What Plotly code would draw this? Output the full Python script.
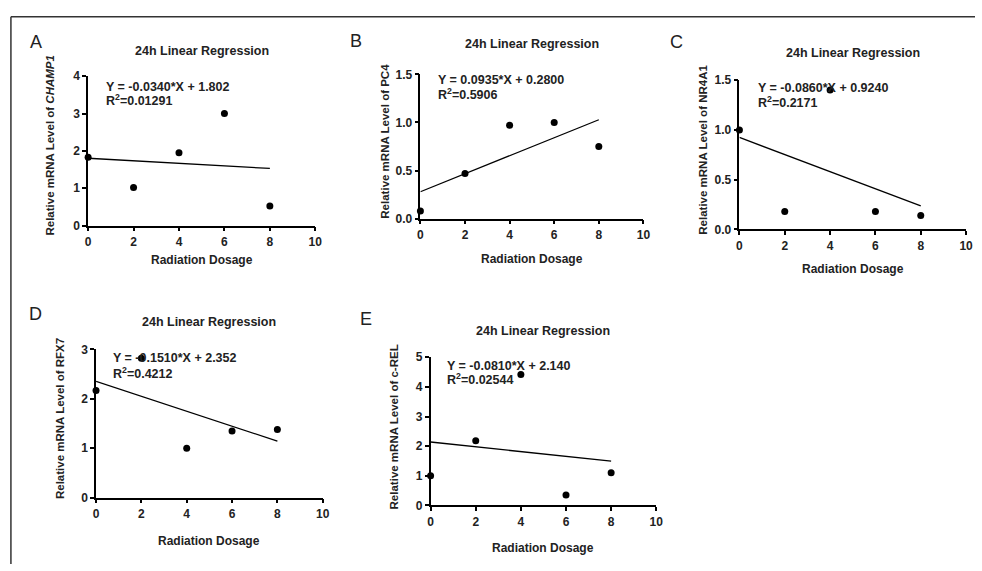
import plotly.graph_objects as go

W, H = 982, 571

# ---- data ----
dose = [0, 2, 4, 6, 8]
panels = ["A", "B", "C", "D", "E"]
genes = ["<i>CHAMP1</i>", "PC4", "NR4A1", "RFX7", "c-REL"]
champ1 = [1.83, 1.02, 1.95, 3.00, 0.52]
pc4 = [0.08, 0.47, 0.97, 1.00, 0.75]
nr4a1 = [1.00, 0.18, 1.40, 0.18, 0.14]
rfx7 = [2.17, 2.82, 1.00, 1.35, 1.38]
crel = [1.00, 2.18, 4.42, 0.35, 1.10]
series = [champ1, pc4, nr4a1, rfx7, crel]
slopes = [-0.0340, 0.0935, -0.0860, -0.1510, -0.0810]
intercepts = [1.802, 0.2800, 0.9240, 2.352, 2.140]
eq_text = ["Y = -0.0340*X + 1.802", "Y = 0.0935*X + 0.2800", "Y = -0.0860*X + 0.9240",
           "Y = -0.1510*X + 2.352", "Y = -0.0810*X + 2.140"]
r2_text = ["0.01291", "0.5906", "0.2171", "0.4212", "0.02544"]
y_max = [4, 1.5, 1.5, 3, 5]
y_ticks = [[0, 1, 2, 3, 4], [0.0, 0.5, 1.0, 1.5], [0.0, 0.5, 1.0, 1.5], [0, 1, 2, 3], [0, 1, 2, 3, 4, 5]]
y_fmt = ["d", ".1f", ".1f", "d", "d"]
x_ticks = [0, 2, 4, 6, 8, 10]

# ---- layout (pixel positions) ----
dom_px = [  # x0, x1, ytop, ybottom
    (86, 315.5, 71, 224),
    (421.7, 647, 69, 217),
    (744, 973, 75, 228),
    (94, 323, 351, 503),
    (432, 660, 359, 511),
]
title_y = [45, 38, 47, 323, 332]
label_xy = [(33, 36), (357, 35), (680, 36), (33, 315), (367, 320)]
eq_xy = [(102, 82, 95), (437, 75, 89), (761, 83, 97), (109, 360, 375), (447, 368, 381)]
ytitle_x = [47, 386, 707, 57, 395]
xtitle_y = [259, 258, 269, 547, 555]

FONT = "Liberation Sans, Arial, sans-serif"

def px(x):
    return x / W

def py(y):
    return 1 - y / H

fig = go.Figure()
annotations = []

for i in range(5):
    xa = "x" if i == 0 else f"x{i+1}"
    ya = "y" if i == 0 else f"y{i+1}"
    xl = "xaxis" if i == 0 else f"xaxis{i+1}"
    yl = "yaxis" if i == 0 else f"yaxis{i+1}"
    x0, x1, yt, yb = dom_px[i]

    fig.add_trace(go.Scatter(
        x=dose, y=series[i], mode="markers", xaxis=xa, yaxis=ya,
        marker=dict(color="black", size=7), cliponaxis=False, showlegend=False))
    line_x = [dose[0], dose[-1]]
    line_y = [intercepts[i] + slopes[i] * v for v in line_x]
    fig.add_trace(go.Scatter(
        x=line_x, y=line_y, mode="lines", xaxis=xa, yaxis=ya,
        line=dict(color="black", width=1.3), cliponaxis=False, showlegend=False))

    fig.update_layout(**{
        xl: dict(domain=[px(x0), px(x1)], anchor=ya, range=[0, 10], tickvals=x_ticks,
                 showline=True, linecolor="black", linewidth=1.5, ticks="outside",
                 ticklen=4, tickwidth=1.5, tickcolor="black", showgrid=False, zeroline=False,
                 tickfont=dict(family=FONT, size=12, color="#222", weight="bold")),
        yl: dict(domain=[py(yb), py(yt)], anchor=xa, range=[0, y_max[i]], tickvals=y_ticks[i],
                 tickformat=y_fmt[i],
                 showline=True, linecolor="black", linewidth=1.5, ticks="outside",
                 ticklen=4, tickwidth=1.5, tickcolor="black", showgrid=False, zeroline=False,
                 tickfont=dict(family=FONT, size=12, color="#222", weight="bold")),
    })

    cx = px((x0 + x1) / 2)
    annotations.append(dict(text="<b>24h Linear Regression</b>", x=cx, y=py(title_y[i]),
                            xref="paper", yref="paper", showarrow=False,
                            font=dict(family=FONT, size=12.5, color="#222"),
                            xanchor="center", yanchor="middle"))
    lx, ly = label_xy[i]
    annotations.append(dict(text=panels[i], x=px(lx), y=py(ly), xref="paper", yref="paper",
                            showarrow=False, font=dict(family=FONT, size=18, color="#222"),
                            xanchor="center", yanchor="middle"))
    ex, ey, ry = eq_xy[i]
    annotations.append(dict(text=f"<b>{eq_text[i]}</b>", x=px(ex), y=py(ey), xref="paper",
                            yref="paper", showarrow=False,
                            font=dict(family=FONT, size=12.5, color="#222"),
                            xanchor="left", yanchor="middle"))
    annotations.append(dict(text=f"<b>R<sup>2</sup>={r2_text[i]}</b>", x=px(ex), y=py(ry),
                            xref="paper", yref="paper", showarrow=False,
                            font=dict(family=FONT, size=12.5, color="#222"),
                            xanchor="left", yanchor="middle"))
    annotations.append(dict(text=f"<b>Relative mRNA Level of {genes[i]}</b>",
                            x=px(ytitle_x[i]), y=py((yt + yb) / 2 - 5), xref="paper",
                            yref="paper", showarrow=False, textangle=-90,
                            font=dict(family=FONT, size=11.5, color="#222"),
                            xanchor="center", yanchor="middle"))
    annotations.append(dict(text="<b>Radiation Dosage</b>", x=cx, y=py(xtitle_y[i]),
                            xref="paper", yref="paper", showarrow=False,
                            font=dict(family=FONT, size=12, color="#222"),
                            xanchor="center", yanchor="middle"))

shapes = [
    dict(type="line", xref="paper", yref="paper", x0=px(8), x1=1, y0=py(10), y1=py(10),
         line=dict(color="#333", width=1.5)),
    dict(type="line", xref="paper", yref="paper", x0=px(8), x1=px(8), y0=py(10), y1=0,
         line=dict(color="#333", width=1.5)),
]

fig.update_layout(width=W, height=H, margin=dict(l=0, r=0, t=0, b=0),
                  paper_bgcolor="white", plot_bgcolor="white",
                  annotations=annotations, shapes=shapes, showlegend=False)

fig.write_html("out.html", config={"displayModeBar": False},
               post_script="document.body.style.margin='0';document.body.style.overflow='hidden';")
